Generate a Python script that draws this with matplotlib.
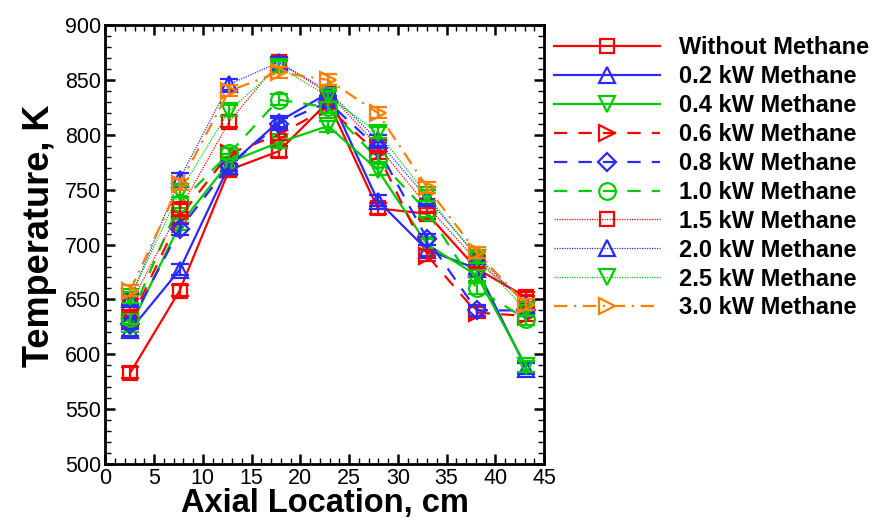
import matplotlib
matplotlib.use("Agg")
import matplotlib.pyplot as plt
from matplotlib.ticker import MultipleLocator

plt.rcParams['font.family'] = ['Liberation Sans', 'DejaVu Sans']

x_cm = [2.54, 7.62, 12.7, 17.78, 22.86, 27.94, 33.02, 38.1, 43.18]

labels = ["Without Methane", "0.2 kW Methane", "0.4 kW Methane", "0.6 kW Methane",
          "0.8 kW Methane", "1.0 kW Methane", "1.5 kW Methane", "2.0 kW Methane",
          "2.5 kW Methane", "3.0 kW Methane"]

t_without = [583, 658, 768, 785, 830, 733, 728, 678, 652]
t_02 = [622, 677, 772, 812, 838, 740, 695, 678, 587]
t_04 = [625, 718, 775, 793, 808, 768, 700, 672, 589]
t_06 = [630, 725, 783, 800, 825, 783, 690, 638, 635]
t_08 = [628, 714, 772, 810, 830, 788, 705, 640, 640]
t_10 = [633, 738, 783, 832, 825, 778, 730, 660, 632]
t_15 = [645, 732, 812, 866, 838, 790, 735, 685, 648]
t_20 = [650, 760, 846, 866, 840, 795, 742, 690, 645]
t_25 = [652, 748, 822, 862, 835, 802, 745, 688, 640]
t_30 = [658, 755, 840, 857, 850, 820, 752, 693, 645]

series = [t_without, t_02, t_04, t_06, t_08, t_10, t_15, t_20, t_25, t_30]

RED, BLUE, GREEN, ORANGE = '#ff0000', '#2a2aff', '#00cc00', '#ff8000'
colors = [RED, BLUE, GREEN, RED, BLUE, GREEN, RED, BLUE, GREEN, ORANGE]
markers = ['s', '^', 'v', '>', 'D', 'o', 's', '^', 'v', '>']
styles = ['-', '-', '-', (0, (6, 5)), (0, (6, 5)), (0, (6, 5)), (0, (1, 1)), (0, (1, 1)), (0, (1, 1)), (0, (6, 3, 1, 3))]
widths = [1.6, 1.6, 1.6, 1.6, 1.6, 1.6, 0.9, 0.9, 0.9, 1.6]
msizes = [10, 11, 11, 11, 9, 12, 10, 11, 11, 11]

fig = plt.figure(figsize=(8.76, 5.22), dpi=100)
ax = fig.add_axes([0.1203, 0.111, 0.5007, 0.841])

handles = []
for ys, lab, c, m, ls, lw, ms in zip(series, labels, colors, markers, styles, widths, msizes):
    ax.errorbar(x_cm, ys, yerr=5, fmt='none', ecolor=c, elinewidth=1.6, capsize=6.5, capthick=1.6)
    h, = ax.plot(x_cm, ys, color=c, linestyle=ls, linewidth=lw, marker=m, markersize=ms,
                 markerfacecolor='none', markeredgecolor=c, markeredgewidth=1.6, label=lab)
    handles.append(h)

ax.set_xlim(0, 45)
ax.set_ylim(500, 900)
ax.xaxis.set_major_locator(MultipleLocator(5))
ax.xaxis.set_minor_locator(MultipleLocator(1))
ax.yaxis.set_major_locator(MultipleLocator(50))
ax.yaxis.set_minor_locator(MultipleLocator(10))
ax.tick_params(which='both', direction='in', top=True, right=True, labelsize=15.5)
ax.tick_params(which='major', length=7, width=1.8, pad=3)
ax.tick_params(which='minor', length=4, width=1.0)
for sp in ax.spines.values():
    sp.set_linewidth(2)

ax.set_xlabel("Axial Location, cm", fontsize=23.5, fontweight='bold', labelpad=-1)
ax.set_ylabel("Temperature, K", fontsize=26, fontweight='bold', labelpad=6, y=0.52)

fig.legend(handles=handles, loc='upper left', bbox_to_anchor=(0.619, 0.953),
           frameon=False, handlelength=4.5, handletextpad=0.8, borderpad=0,
           labelspacing=0.25, prop={'weight': 'bold', 'size': 17})

fig.savefig("out.png", dpi=100)
